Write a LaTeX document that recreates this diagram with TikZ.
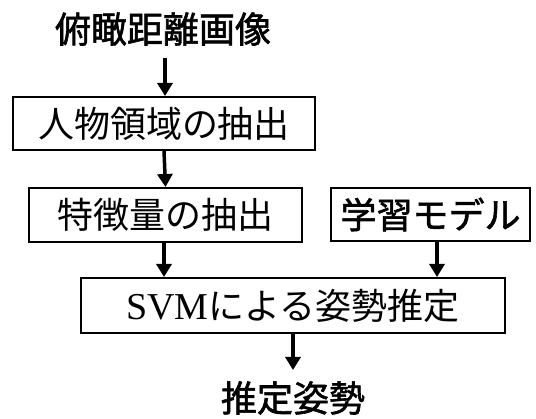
\documentclass[tikz,border=0pt]{standalone}
\usepackage{fontspec}
\newfontfamily\jp{Noto Sans CJK JP}
\newfontfamily\jpb[FakeBold=1.6]{Noto Sans CJK JP}
\newfontfamily\tms{Liberation Serif}
\usetikzlibrary{arrows.meta,calc}
\tikzset{
  boxthick/.style={draw=black,line width=2pt,inner sep=0pt,minimum height=#1},
  boxthin/.style={draw=black,line width=1.3pt,inner sep=0pt,minimum height=#1},
  label/.style={inner sep=0pt,font=\jpb\fontsize{36}{40}\selectfont},
  arr/.style={line width=3.5pt,-{Triangle[width=15pt,length=13pt]}},
}
\begin{document}
\begin{tikzpicture}[x=1pt,y=1pt,font=\jp\fontsize{36}{40}\selectfont]
\useasboundingbox (0,0) rectangle (536,419);
% y_tikz = 419 - y_px
\node[label] (title) at (163,390) {俯瞰距離画像};
\node[boxthick=53pt,minimum width=302pt] (b1) at (164,295.5) {人物領域の抽出};
\node[boxthick=54pt,minimum width=273pt] (b2) at (165.5,204) {特徴量の抽出};
\node[boxthin=53pt,minimum width=199pt,font=\jpb\fontsize{36}{40}\selectfont] (b3) at (430.5,204.5) {学習モデル};
\node[boxthick=55pt,minimum width=424pt] (b4) at (293,113.5) {{\tms\fontsize{38}{40}\selectfont SVM}による姿勢推定};
\node[label] (res) at (293,21) {推定姿勢};
\coordinate (a1s) at (165,361);
\coordinate (a3s) at (164,177);
\coordinate (a4s) at (437,178);
\draw[arr] (a1s) -- (a1s |- b1.north);
\draw[arr] (b1.south) -- (b2.north);
\draw[arr] (a3s) -- (a3s |- b4.north);
\draw[arr] (a4s) -- (a4s |- b4.north);
\draw[arr] (b4.south) -- ($(b4.south)+(0,-36)$) coordinate (a5e);
\end{tikzpicture}
\end{document}
